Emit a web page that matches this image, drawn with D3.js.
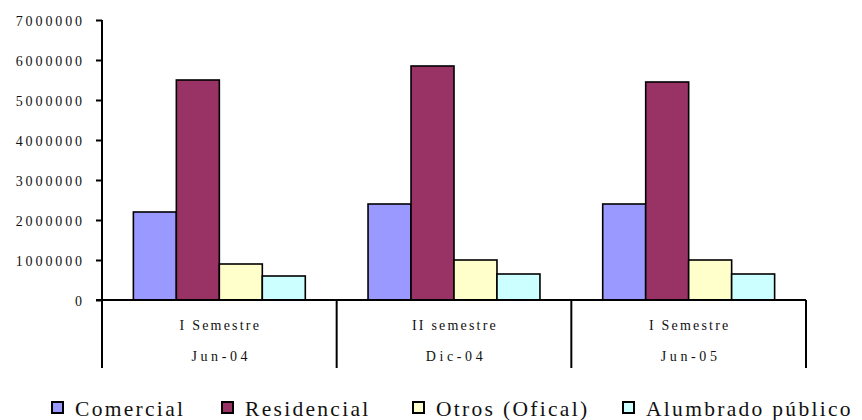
<!DOCTYPE html>
<html><head><meta charset="utf-8">
<script src="https://cdn.jsdelivr.net/npm/d3@7"></script>
<style>
body{margin:0;background:#fff}svg{display:block}
text{font-family:"Liberation Serif";}
</style>
</head><body>
<script>
const semestres = ["I Semestre", "II semestre", "I Semestre"];
const periodos = ["Jun-04", "Dic-04", "Jun-05"];
const series = ["Comercial", "Residencial", "Otros (Ofical)", "Alumbrado público"];
const comercial = [2200000, 2400000, 2400000];
const residencial = [5500000, 5850000, 5450000];
const otros = [900000, 1000000, 1000000];
const alumbrado = [600000, 650000, 650000];
const yTicks = [0, 1000000, 2000000, 3000000, 4000000, 5000000, 6000000, 7000000];
const colors = ["#9999FF", "#993366", "#FFFFCC", "#CCFFFF"];

const values = [comercial, residencial, otros, alumbrado];
const W = 862, H = 420;
const FONT = '"Liberation Serif"';
const svg = d3.select("body").append("svg").attr("width", W).attr("height", H);

const x0 = d3.scaleBand().domain(d3.range(periodos.length)).range([102, 806]).paddingInner(0).paddingOuter(0);
const x1 = d3.scaleBand().domain(d3.range(series.length)).range([0, x0.bandwidth()]).paddingInner(0).paddingOuter(0.73);
const y = d3.scaleLinear().domain([0, 7000000]).range([300, 20]);

// bars
const g = svg.append("g");
periodos.forEach((p, i) => {
  series.forEach((s, j) => {
    const v = values[j][i];
    g.append("rect")
      .attr("x", x0(i) + x1(j))
      .attr("y", y(v))
      .attr("width", x1.bandwidth())
      .attr("height", y(0) - y(v))
      .attr("fill", colors[j])
      .attr("stroke", "#000")
      .attr("stroke-width", 1.6);
  });
});

// y axis
const yAxis = d3.axisLeft(y).tickValues(yTicks).tickSize(6).tickFormat(d3.format("d"));
const ya = svg.append("g").attr("transform", "translate(102,0)").call(yAxis);
ya.attr("font-family", null).attr("font-size", null);
ya.select(".domain").attr("stroke", "#000").attr("stroke-width", 2).attr("d", "M0,20V300");
ya.selectAll(".tick line").attr("stroke", "#000").attr("stroke-width", 2);
ya.selectAll(".tick text")
  .attr("x", -17).attr("dy", "0.36em")
  .style("font-family", FONT)
  .style("font-size", "14px")
  .style("letter-spacing", "2.9px")
  .attr("fill", "#111");

// x axis
svg.append("line").attr("x1", 96).attr("x2", 806).attr("y1", 300).attr("y2", 300)
  .attr("stroke", "#000").attr("stroke-width", 2);
const seps = d3.range(periodos.length + 1).map(i => i < periodos.length ? x0(i) : x0.range()[1]);
svg.selectAll(".sep").data(seps).enter().append("line")
  .attr("x1", d => d).attr("x2", d => d).attr("y1", 300).attr("y2", 368)
  .attr("stroke", "#000").attr("stroke-width", 2);

svg.selectAll(".sem").data(semestres).enter().append("text")
  .attr("x", (d, i) => x0(i) + x0.bandwidth() / 2 + 1)
  .attr("y", 330)
  .attr("text-anchor", "middle")
  .style("font-family", FONT).style("font-size", "14px").style("letter-spacing", "2.2px")
  .attr("fill", "#111")
  .text(d => d);
svg.selectAll(".per").data(periodos).enter().append("text")
  .attr("x", (d, i) => x0(i) + x0.bandwidth() / 2 + 2)
  .attr("y", 361)
  .attr("text-anchor", "middle")
  .style("font-family", FONT).style("font-size", "14px").style("letter-spacing", "3.6px")
  .attr("fill", "#111")
  .text(d => d);

// legend
const legX = [52, 222, 413, 623];
const leg = svg.append("g");
series.forEach((s, j) => {
  leg.append("rect").attr("x", legX[j]).attr("y", 402).attr("width", 11).attr("height", 11)
    .attr("fill", colors[j]).attr("stroke", "#000").attr("stroke-width", 2);
  leg.append("text").attr("x", legX[j] + 23).attr("y", 416)
    .style("font-family", FONT).style("font-size", "21.5px").style("letter-spacing", "2.3px")
    .attr("fill", "#111")
    .text(s);
});
</script>
</body></html>
